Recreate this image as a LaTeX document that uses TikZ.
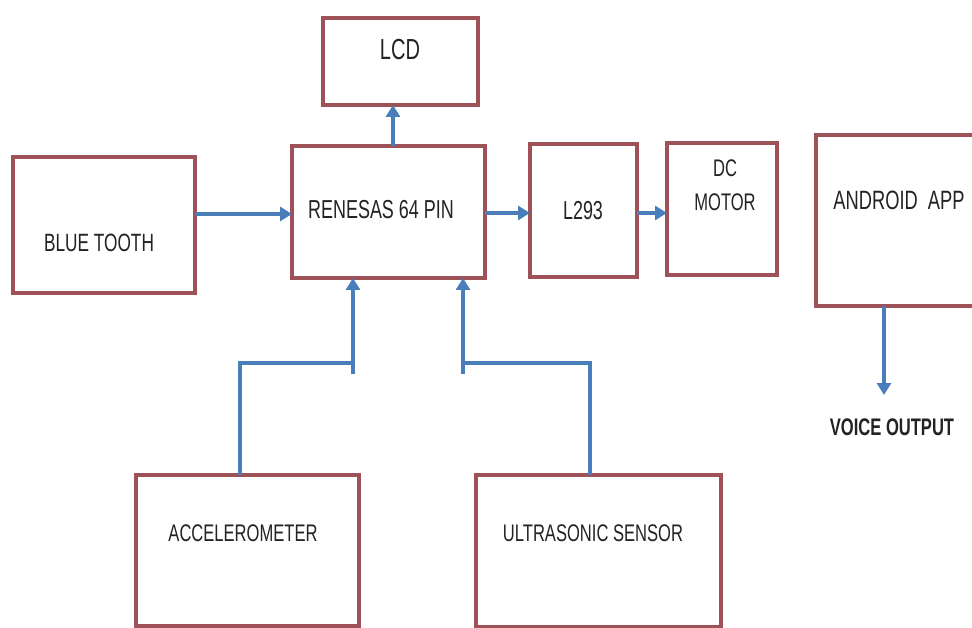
\documentclass[tikz,border=0pt]{standalone}
\usepackage{fontspec}
\setmainfont[FakeStretch=0.69]{Liberation Sans}
\usetikzlibrary{arrows.meta,calc}
\definecolor{boxred}{RGB}{158,82,88}
\definecolor{arrblue}{RGB}{74,126,187}
\definecolor{txt}{RGB}{35,35,35}
\begin{document}
\begin{tikzpicture}[x=1pt,y=-1pt,
  blk/.style={draw=boxred,line width=4.6pt,fill=white,inner sep=0pt,outer sep=0pt},
  tx/.style={text=txt,inner sep=0pt,font=\fontsize{#1}{#1}\selectfont},
  tx/.default=25,
  conn/.style={draw=arrblue,line width=4pt},
  arr/.style={conn,-{Triangle[length=12pt,width=14pt]}}]
\useasboundingbox (0,0) rectangle (972,628);
\clip (0,0) rectangle (972,628);
\fill[white] (0,0) rectangle (972,628);

% boxes
\node[blk,minimum width=155pt,minimum height=87pt]  (lcd) at (400.5,61.5) {};
\node[blk,minimum width=182pt,minimum height=136pt] (bt)  at (104,225) {};
\node[blk,minimum width=193pt,minimum height=132pt] (ren) at (388.5,212) {};
\node[blk,minimum width=107pt,minimum height=133pt] (drv) at (583.5,210.5) {};
\node[blk,minimum width=110pt,minimum height=132pt] (dc)  at (722,209) {};
\node[blk,minimum width=169pt,minimum height=171pt] (and) at (900.5,220.5) {};
\node[blk,minimum width=223pt,minimum height=151pt] (acc) at (247.5,550.5) {};
\node[blk,minimum width=245pt,minimum height=152pt] (ult) at (598.5,551) {};

% texts
\node[tx=29] (tlcd) at (400,50) {LCD};
\node[tx=25] (tbt)  at (99,243) {BLUE TOOTH};
\node[tx=26] (tren) at (381,210) {RENESAS 64 PIN};
\node[tx=26] (tdrv) at (583,211) {L293};
\node[tx=24] (tdc1) at (725,168) {DC};
\node[tx=24] (tdc2) at (725,202) {MOTOR};
\node[tx=26.5] (tand) at (899,200) {ANDROID~ APP};
\node[tx=24] (tacc) at (243,533) {ACCELEROMETER};
\node[tx=24] (tult) at (593,533) {ULTRASONIC SENSOR};
\node[tx=24,font=\fontsize{24}{24}\selectfont\bfseries] (tvo) at (892,427) {VOICE OUTPUT};

% connector helper coordinates
\coordinate (xl) at (393,0);
\coordinate (yb) at (0,214);
\coordinate (yd) at (0,213);
\coordinate (xa) at (240,0);
\coordinate (xb) at (353,0);
\coordinate (xc) at (590,0);
\coordinate (xd) at (463,0);
\coordinate (ym) at (0,363);
\coordinate (ys) at (0,374);
\coordinate (xv) at (884,0);
\coordinate (vend) at (884,395);

% connectors
\draw[arr] (ren.north -| xl) -- (lcd.south -| xl);
\draw[arr] (bt.east |- yb) -- (ren.west |- yb);
\draw[arr] (ren.east |- yd) -- (drv.west |- yd);
\draw[arr] (drv.east |- yd) -- (dc.west |- yd);
\draw[conn] (acc.north -| xa) |- (ym -| xb);
\draw[arr] (ys -| xb) -- (ren.south -| xb);
\draw[conn] (ult.north -| xc) |- (ym -| xd);
\draw[arr] (ys -| xd) -- (ren.south -| xd);
\draw[arr] (and.south -| xv) -- (vend);
\end{tikzpicture}
\end{document}
